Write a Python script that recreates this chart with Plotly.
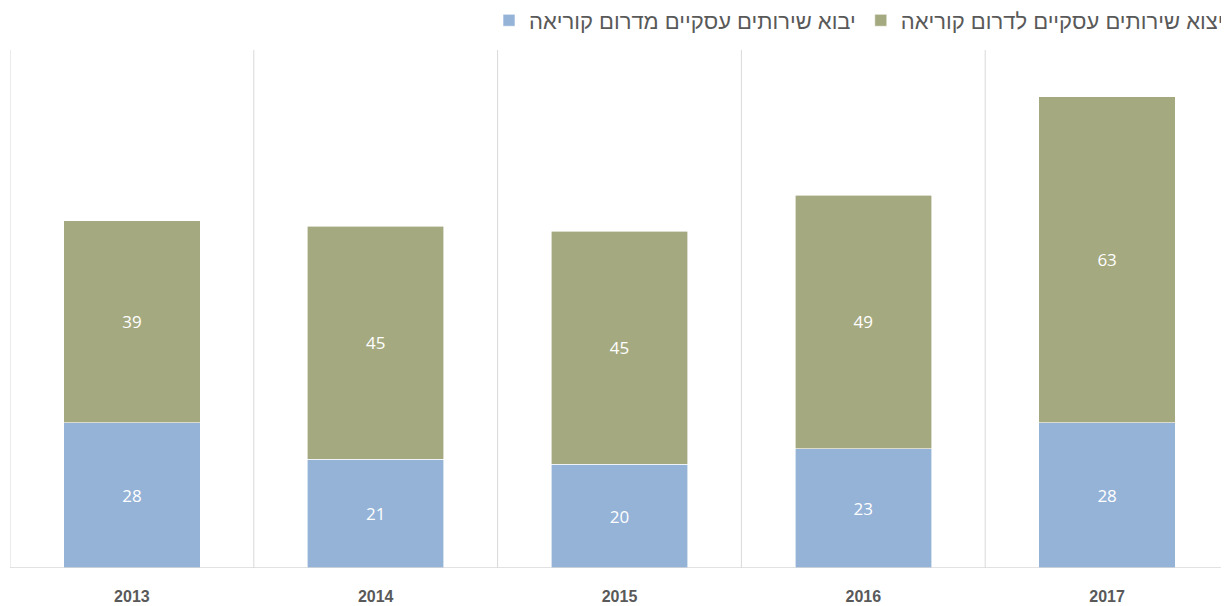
import plotly.graph_objects as go

years = ["2013", "2014", "2015", "2016", "2017"]
imports = [28, 21, 20, 23, 28]
exports = [39, 45, 45, 49, 63]
import_name = "יבוא שירותים עסקיים מדרום קוריאה"
export_name = "יצוא שירותים עסקיים לדרום קוריאה"

fig = go.Figure()
fig.add_trace(go.Bar(
    x=years, y=imports, name=import_name,
    marker=dict(color="#95B3D7", line=dict(color="white", width=0.6)),
    text=imports, textposition="inside", insidetextanchor="middle",
    textfont=dict(color="white", size=17, family="Open Sans"),
    width=0.56,
))
fig.add_trace(go.Bar(
    x=years, y=exports, name=export_name,
    marker=dict(color="#A5A980", line=dict(color="white", width=0.6)),
    text=exports, textposition="inside", insidetextanchor="middle",
    textfont=dict(color="white", size=17, family="Open Sans"),
    width=0.56,
))

shapes = []
for i in range(len(years) + 1):
    shapes.append(dict(type="line", xref="x", yref="paper",
                       x0=i - 0.5, x1=i - 0.5, y0=0, y1=1,
                       line=dict(color="#D9D9D9", width=1), layer="below"))
shapes.append(dict(type="line", xref="paper", yref="y", x0=0, x1=1, y0=0, y1=0,
                   line=dict(color="#D9D9D9", width=1.5), layer="above"))

# page body has an 8px margin, so the figure is sized to fit the window
fig.update_layout(
    barmode="stack",
    width=1221, height=598,
    margin=dict(l=2, r=0, t=42, b=38, autoexpand=False),
    plot_bgcolor="white", paper_bgcolor="white",
    showlegend=True,
    legend=dict(orientation="h", xanchor="right", x=1.0, yanchor="middle", y=1.057,
                font=dict(size=22, color="#595959", family="Liberation Sans"),
                itemwidth=30, traceorder="normal", bgcolor="rgba(0,0,0,0)"),
    xaxis=dict(range=[-0.5, 4.5], showgrid=False, zeroline=False, showline=False,
               tickfont=dict(size=16, color="#595959", family="Liberation Sans", weight="bold"),
               ticks="", ticklabelstandoff=17),
    yaxis=dict(range=[0, 100], showgrid=False, zeroline=False, showticklabels=False,
               showline=False),
    shapes=shapes,
    bargap=0.44,
)

fig.write_html("out.html")
